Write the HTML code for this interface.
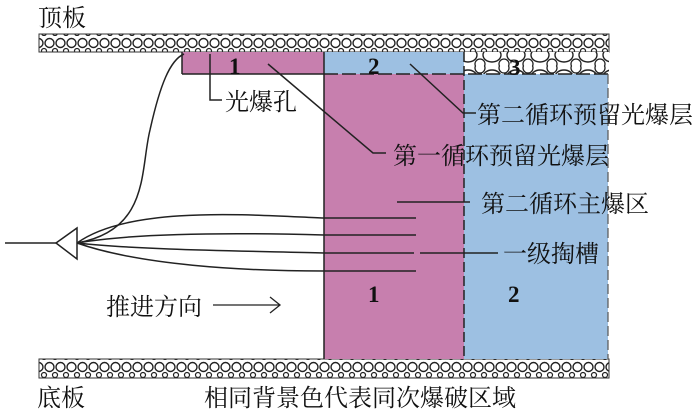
<!DOCTYPE html>
<html><head><meta charset="utf-8"><style>
body{margin:0;background:#fff;}
svg text{font-family:"Liberation Serif","Noto Serif CJK SC",serif;fill:#111;}
</style></head><body>
<svg width="700" height="415" viewBox="0 0 700 415" xmlns="http://www.w3.org/2000/svg">
<defs>
<pattern id="rock" width="11" height="18" patternUnits="userSpaceOnUse">
<rect width="11" height="18" fill="#fff"/>
<circle cx="5.5" cy="7" r="4.5" fill="none" stroke="#222" stroke-width="1.4"/>
<circle cx="0" cy="15" r="2.5" fill="none" stroke="#222" stroke-width="1.2"/>
<circle cx="11" cy="15" r="2.5" fill="none" stroke="#222" stroke-width="1.2"/>
</pattern>
<pattern id="rock2" width="24" height="22" patternUnits="userSpaceOnUse">
<rect width="24" height="22" fill="#fff"/>
<ellipse cx="12" cy="11" rx="9" ry="7" fill="none" stroke="#222" stroke-width="1.4"/>
<circle cx="0" cy="2" r="5" fill="none" stroke="#222" stroke-width="1.3"/>
<circle cx="24" cy="2" r="5" fill="none" stroke="#222" stroke-width="1.3"/>
<circle cx="0" cy="20" r="5" fill="none" stroke="#222" stroke-width="1.3"/>
<circle cx="24" cy="20" r="5" fill="none" stroke="#222" stroke-width="1.3"/>
</pattern>
</defs>
<rect x="39" y="34" width="570" height="18" fill="url(#rock)" stroke="#333" stroke-width="1"/>
<rect x="39" y="359" width="570" height="19" fill="url(#rock)" stroke="#333" stroke-width="1"/>
<rect x="464" y="52" width="145" height="22" fill="url(#rock2)"/>
<rect x="182" y="52" width="142" height="22" fill="#c77fae"/>
<rect x="324" y="52" width="140" height="22" fill="#9dc0e2"/>
<rect x="324" y="74" width="140" height="285" fill="#c77fae"/>
<rect x="464" y="74" width="144" height="285" fill="#9dc0e2"/>
<line x1="182" y1="52" x2="182" y2="74" stroke="#222" stroke-width="1.5"/>
<line x1="182" y1="74" x2="324" y2="74" stroke="#222" stroke-width="1.5"/>
<line x1="324" y1="52" x2="324" y2="359" stroke="#222" stroke-width="1.5"/>
<line x1="324" y1="74" x2="608" y2="74" stroke="#222" stroke-width="1.5" stroke-dasharray="14,4"/>
<line x1="464" y1="52" x2="464" y2="359" stroke="#222" stroke-width="1.5" stroke-dasharray="10,4"/>
<line x1="608" y1="74" x2="608" y2="359" stroke="#555" stroke-width="1.2" stroke-dasharray="10,4"/>
<g font-size="23" font-weight="bold">
<text x="229" y="74">1</text><text x="368" y="74">2</text><text x="509" y="75">3</text>
<text x="368" y="302">1</text><text x="508" y="302">2</text>
</g>
<g stroke="#222" stroke-width="1.5" fill="none">
<line x1="324" y1="218" x2="416" y2="218"/>
<line x1="324" y1="235" x2="416" y2="235"/>
<line x1="324" y1="253" x2="414" y2="253"/>
<line x1="420" y1="253" x2="498" y2="253"/>
<line x1="324" y1="271" x2="416" y2="271"/>
<line x1="397" y1="202" x2="470" y2="202"/>
<path d="M77 243 C130 205 250 215 324 218"/>
<path d="M77 243 C140 232 250 233 324 235"/>
<path d="M77 243 C140 250 250 251 324 253"/>
<path d="M77 243 C140 265 240 271 324 271"/>
<path d="M77 243 C150 230 140 170 150 130 C160 85 170 60 184 54"/>
<line x1="5" y1="243" x2="56" y2="243"/>
<polygon points="56,243 77,228 77,259" fill="#fff"/>
<polyline points="210,54 210,100 222,100"/>
<polyline points="268,64 373,153 386,153"/>
<polyline points="410,64 463,113 476,113"/>
<line x1="213" y1="305" x2="279" y2="305" stroke-width="1.3"/>
<polyline points="270,297 280,305 270,313" stroke-width="1.3"/>
</g>
<g font-size="24">
<text x="38" y="26">顶板</text>
<text x="225" y="110">光爆孔</text>
<text x="393" y="164">第一循环预留光爆层</text>
<text x="477" y="123">第二循环预留光爆层</text>
<text x="481" y="212">第二循环主爆区</text>
<text x="503" y="262">一级掏槽</text>
<text x="106" y="315">推进方向</text>
<text x="37" y="406">底板</text>
<text x="204" y="406">相同背景色代表同次爆破区域</text>
</g>
</svg>
</body></html>
